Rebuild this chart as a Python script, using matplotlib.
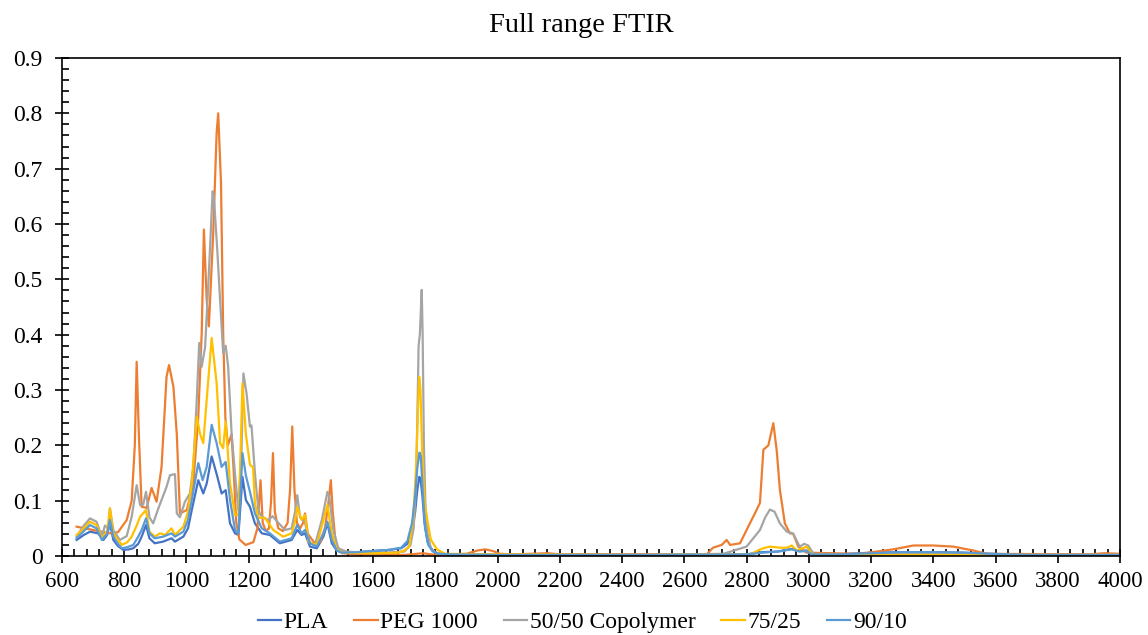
import numpy as np
import matplotlib.pyplot as plt
from matplotlib.ticker import MultipleLocator

# wavenumber (cm-1) and absorbance
pla_w = [647, 670, 690, 716, 733, 745, 754, 765, 780, 797, 815, 829, 845, 856, 870, 881, 898, 925, 952, 963,
         990, 1005, 1017, 1038, 1054, 1065, 1081, 1097, 1113, 1126, 1140, 1156, 1167, 1180, 1191, 1204, 1220,
         1242, 1268, 1300, 1338, 1356, 1370, 1381, 1397, 1419, 1440, 1453, 1467, 1483, 1500, 1550, 1600, 1650,
         1690, 1710, 1725, 1735, 1742, 1748, 1752, 1758, 1765, 1775, 1790, 1810, 1850, 2000, 2500, 2800,
         2850, 2900, 2945, 2970, 2993, 3010, 3100, 3200, 3300, 3400, 3500, 3580, 3700, 4000]
pla_a = [0.029, 0.038, 0.044, 0.041, 0.029, 0.038, 0.059, 0.029, 0.018, 0.011, 0.012, 0.014, 0.022, 0.035,
         0.056, 0.032, 0.023, 0.026, 0.032, 0.026, 0.035, 0.05, 0.083, 0.137, 0.113, 0.131, 0.18, 0.148, 0.113,
         0.119, 0.059, 0.041, 0.038, 0.143, 0.101, 0.089, 0.059, 0.041, 0.038, 0.023, 0.029, 0.047, 0.038,
         0.041, 0.017, 0.014, 0.035, 0.059, 0.023, 0.01, 0.006, 0.007, 0.009, 0.011, 0.014, 0.022, 0.045,
         0.08, 0.12, 0.143, 0.14, 0.11, 0.06, 0.025, 0.01, 0.004, 0.003, 0.002, 0.002, 0.003, 0.007, 0.008,
         0.013, 0.009, 0.01, 0.003, 0.003, 0.006, 0.007, 0.007, 0.006, 0.004, 0.002, 0.002]

peg_w = [647, 700, 754, 780, 808, 824, 834, 840, 847, 856, 872, 888, 904, 920, 936, 944, 958, 969, 979, 1001,
         1022, 1038, 1049, 1056, 1065, 1072, 1086, 1097, 1102, 1111, 1118, 1125, 1133, 1145, 1152, 1160, 1170,
         1190, 1215, 1228, 1238, 1245, 1255, 1265, 1272, 1278, 1284, 1295, 1310, 1325, 1333, 1340, 1347, 1355,
         1365, 1375, 1381, 1390, 1410, 1430, 1445, 1455, 1464, 1470, 1480, 1500, 1550, 1700, 1760, 1800, 1900,
         1935, 1960, 1985, 2007, 2050, 2162, 2200, 2672, 2692, 2720, 2736, 2747, 2779, 2800, 2832, 2843, 2854,
         2870, 2886, 2897, 2907, 2923, 2939, 2950, 2966, 2993, 3164, 3271, 3336, 3400, 3464, 3528, 3571, 3900,
         3950, 4000]
peg_a = [0.053, 0.047, 0.041, 0.043, 0.065, 0.10, 0.2, 0.351, 0.22, 0.089, 0.087, 0.123, 0.098, 0.161, 0.324,
         0.345, 0.306, 0.22, 0.077, 0.083, 0.131, 0.252, 0.403, 0.59, 0.463, 0.415, 0.584, 0.765, 0.80, 0.674,
         0.403, 0.25, 0.20, 0.22, 0.15, 0.06, 0.03, 0.02, 0.025, 0.05, 0.137, 0.06, 0.045, 0.05, 0.1, 0.186,
         0.08, 0.05, 0.045, 0.06, 0.12, 0.234, 0.12, 0.06, 0.05, 0.06, 0.077, 0.04, 0.025, 0.025, 0.05, 0.09,
         0.137, 0.08, 0.02, 0.005, 0.003, 0.002, 0.005, 0.002, 0.004, 0.01, 0.012, 0.009, 0.004, 0.003, 0.005,
         0.003, 0.003, 0.015, 0.02, 0.029, 0.02, 0.023, 0.047, 0.083, 0.096, 0.192, 0.2, 0.24, 0.19, 0.12,
         0.059, 0.041, 0.04, 0.017, 0.006, 0.004, 0.012, 0.019, 0.019, 0.017, 0.01, 0.004, 0.003, 0.005, 0.004]

co50_w = [647, 670, 690, 711, 728, 738, 749, 754, 765, 786, 808, 824, 840, 851, 861, 870, 881, 893, 909, 936,
          947, 963, 969, 979, 995, 1011, 1022, 1033, 1041, 1049, 1060, 1073, 1084, 1088, 1099, 1108, 1118, 1126,
          1134, 1145, 1156, 1167, 1177, 1183, 1193, 1204, 1209, 1220, 1231, 1242, 1263, 1277, 1295, 1317, 1338,
          1349, 1356, 1365, 1381, 1397, 1413, 1435, 1453, 1459, 1472, 1488, 1513, 1600, 1700, 1720, 1730, 1738,
          1743, 1746, 1750, 1753, 1756, 1759, 1763, 1768, 1775, 1785, 1800, 1830, 2000, 2500, 2725, 2800, 2843,
          2860, 2875, 2890, 2907, 2929, 2949, 2971, 2985, 2998, 3015, 3100, 3400, 3500, 3600, 4000]
co50_a = [0.035, 0.055, 0.068, 0.062, 0.035, 0.055, 0.05, 0.086, 0.047, 0.029, 0.036, 0.071, 0.128, 0.092,
          0.093, 0.116, 0.07, 0.059, 0.085, 0.125, 0.146, 0.148, 0.077, 0.07, 0.098, 0.113, 0.161, 0.282, 0.385,
          0.342, 0.378, 0.523, 0.659, 0.65, 0.553, 0.463, 0.367, 0.38, 0.342, 0.222, 0.148, 0.083, 0.192, 0.33,
          0.294, 0.234, 0.236, 0.15, 0.083, 0.071, 0.065, 0.072, 0.06, 0.047, 0.05, 0.08, 0.11, 0.07, 0.06,
          0.023, 0.02, 0.065, 0.116, 0.107, 0.047, 0.014, 0.008, 0.005, 0.008, 0.02, 0.05, 0.13, 0.28, 0.38,
          0.40, 0.44, 0.481, 0.40, 0.2, 0.09, 0.04, 0.015, 0.006, 0.003, 0.002, 0.002, 0.004, 0.017, 0.047,
          0.07, 0.084, 0.08, 0.059, 0.044, 0.041, 0.017, 0.022, 0.019, 0.004, 0.002, 0.004, 0.004, 0.002, 0.002]

co75_w = [647, 670, 690, 711, 728, 745, 754, 765, 792, 810, 824, 840, 851, 870, 881, 898, 915, 931, 952, 963,
          990, 1005, 1017, 1033, 1044, 1054, 1065, 1081, 1097, 1108, 1118, 1126, 1140, 1156, 1167, 1172, 1180,
          1191, 1204, 1214, 1220, 1231, 1252, 1279, 1311, 1338, 1348, 1356, 1370, 1381, 1392, 1419, 1440, 1453,
          1467, 1483, 1500, 1600, 1680, 1700, 1716, 1729, 1738, 1744, 1748, 1752, 1758, 1765, 1772, 1785, 1805,
          1830, 2000, 2500, 2811, 2853, 2875, 2907, 2930, 2945, 2961, 2993, 3010, 3100, 3400, 4000]
co75_a = [0.038, 0.05, 0.062, 0.056, 0.032, 0.045, 0.086, 0.041, 0.02, 0.025, 0.035, 0.055, 0.071, 0.083,
          0.044, 0.035, 0.041, 0.038, 0.05, 0.038, 0.053, 0.08, 0.131, 0.252, 0.22, 0.204, 0.282, 0.394, 0.312,
          0.204, 0.195, 0.243, 0.131, 0.074, 0.074, 0.15, 0.312, 0.22, 0.165, 0.16, 0.095, 0.069, 0.069, 0.047,
          0.035, 0.041, 0.06, 0.089, 0.065, 0.074, 0.026, 0.02, 0.065, 0.092, 0.041, 0.012, 0.006, 0.005, 0.006,
          0.01, 0.017, 0.071, 0.16, 0.27, 0.324, 0.30, 0.18, 0.1, 0.071, 0.03, 0.012, 0.004, 0.003, 0.002,
          0.003, 0.014, 0.017, 0.015, 0.015, 0.019, 0.01, 0.017, 0.003, 0.002, 0.002, 0.002]

co90_w = [647, 670, 690, 711, 728, 745, 754, 765, 780, 792, 810, 829, 845, 856, 870, 881, 898, 925, 952, 963,
          990, 1005, 1017, 1038, 1052, 1065, 1081, 1097, 1113, 1126, 1140, 1156, 1167, 1180, 1191, 1204, 1220,
          1242, 1268, 1300, 1338, 1356, 1370, 1381, 1397, 1419, 1440, 1453, 1467, 1483, 1500, 1550, 1600, 1650,
          1690, 1710, 1725, 1735, 1742, 1749, 1753, 1760, 1767, 1777, 1792, 1810, 1850, 2000, 2500, 2800,
          2850, 2900, 2945, 2970, 2993, 3010, 3100, 3200, 3300, 3400, 3500, 3580, 3700, 4000]
co90_a = [0.032, 0.045, 0.056, 0.05, 0.029, 0.04, 0.065, 0.035, 0.022, 0.014, 0.016, 0.02, 0.035, 0.047,
          0.068, 0.041, 0.032, 0.035, 0.041, 0.035, 0.044, 0.065, 0.101, 0.168, 0.137, 0.161, 0.237, 0.204,
          0.161, 0.17, 0.101, 0.047, 0.041, 0.186, 0.145, 0.116, 0.077, 0.05, 0.041, 0.026, 0.032, 0.056, 0.041,
          0.047, 0.023, 0.017, 0.041, 0.062, 0.029, 0.01, 0.006, 0.007, 0.009, 0.011, 0.015, 0.027, 0.06, 0.11,
          0.16, 0.187, 0.18, 0.11, 0.05, 0.02, 0.008, 0.004, 0.003, 0.002, 0.002, 0.003, 0.006, 0.008, 0.012,
          0.008, 0.009, 0.003, 0.003, 0.005, 0.007, 0.007, 0.006, 0.004, 0.002, 0.002]

series = [
    ("PLA", pla_w, pla_a, "#4472C4"),
    ("PEG 1000", peg_w, peg_a, "#ED7D31"),
    ("50/50 Copolymer", co50_w, co50_a, "#A5A5A5"),
    ("75/25", co75_w, co75_a, "#FFC000"),
    ("90/10", co90_w, co90_a, "#5B9BD5"),
]

plt.rcParams['font.family'] = ['Liberation Serif', 'DejaVu Serif']

fig = plt.figure(figsize=(11.48, 6.35), dpi=100)
ax = fig.add_axes([0.054, 0.1244, 0.9216, 0.7843])

for name, w, a, col in series:
    ax.plot(np.array(w), np.array(a), color=col, lw=1.6, label=name)

ax.set_xlim(600, 4000)
ax.set_ylim(0, 0.9)
ax.xaxis.set_major_locator(MultipleLocator(200))
ax.xaxis.set_minor_locator(MultipleLocator(40))
ax.yaxis.set_major_locator(MultipleLocator(0.1))
ax.yaxis.set_minor_locator(MultipleLocator(0.02))
ax.yaxis.set_major_formatter(plt.FuncFormatter(lambda v, p: "0" if abs(v) < 1e-9 else f"{v:.1f}"))

ax.tick_params(axis='x', which='major', direction='inout', length=10, width=1.2, labelsize=16.5, pad=6)
ax.tick_params(axis='y', which='major', direction='inout', length=10, width=1.2, labelsize=17, pad=9)
ax.tick_params(which='minor', direction='in', length=5, width=1.2)
for s in ax.spines.values():
    s.set_linewidth(1.2)
    s.set_color('black')

ax.set_title("Full range FTIR", fontsize=20.5, pad=19, x=0.4905)

fig.legend(loc='lower center', ncol=5, frameon=False, fontsize=17, bbox_to_anchor=(0.507, -0.03),
           handlelength=1.0, handletextpad=0.1, columnspacing=1.1)

fig.savefig("out.png", dpi=100)
